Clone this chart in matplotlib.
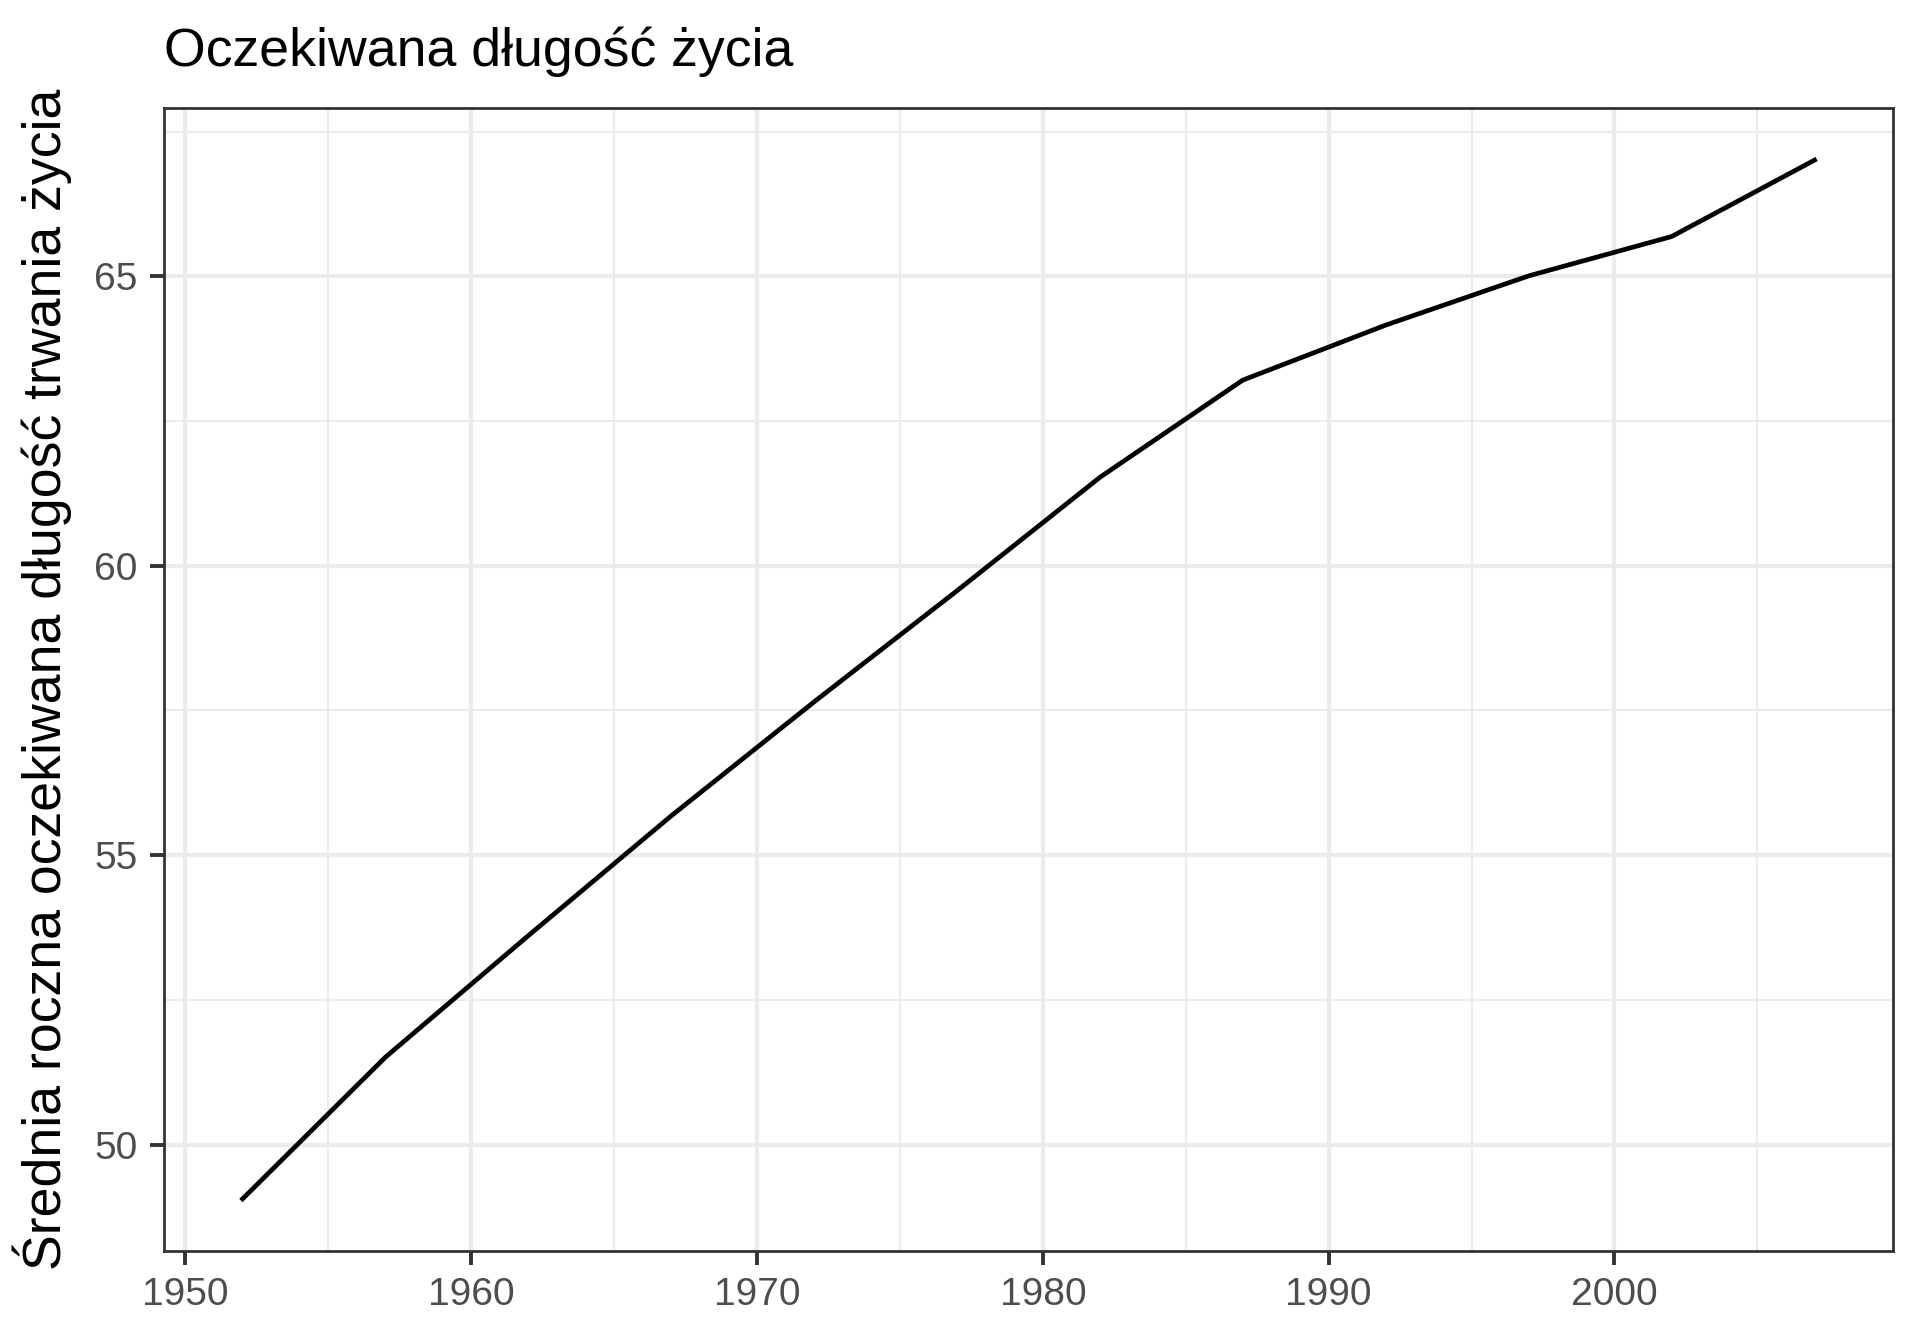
import matplotlib.pyplot as plt
from matplotlib.ticker import MultipleLocator

# srednia oczekiwana dlugosc zycia (gapminder)
lata = [1952, 1957, 1962, 1967, 1972, 1977, 1982, 1987, 1992, 1997, 2002, 2007]
zycie = [49.06, 51.51, 53.61, 55.68, 57.65, 59.57, 61.53, 63.21, 64.16, 65.01, 65.69, 67.01]

plt.rcParams['font.family'] = ['Liberation Sans', 'DejaVu Sans']

fig = plt.figure(figsize=(9.6, 6.72), dpi=200)
ax = fig.add_axes([0.0854, 0.0692, 0.9006, 0.8504])

ax.plot(lata, zycie, color='black', linewidth=1.7, zorder=3)

ax.set_xlim(1949.25, 2009.75)
ax.set_ylim(48.16, 67.91)
ax.xaxis.set_major_locator(MultipleLocator(10))
ax.xaxis.set_minor_locator(MultipleLocator(5))
ax.yaxis.set_major_locator(MultipleLocator(5))
ax.yaxis.set_minor_locator(MultipleLocator(2.5))

ax.grid(which='major', color='#EBEBEB', linewidth=1.5)
ax.grid(which='minor', color='#EBEBEB', linewidth=0.75)
ax.set_axisbelow(True)

for s in ax.spines.values():
    s.set_color('#333333')
    s.set_linewidth(1.0)

ax.tick_params(which='major', length=5, width=1.4, color='#333333',
               labelcolor='#4D4D4D', labelsize=14, pad=4.5)
ax.tick_params(which='minor', length=0)

ax.set_ylabel('Średnia roczna oczekiwana długość trwania życia', fontsize=19.3, labelpad=8)
ax.set_title('Oczekiwana długość życia', fontsize=19.3, loc='left', pad=15)

fig.savefig('out.png', dpi=200)
